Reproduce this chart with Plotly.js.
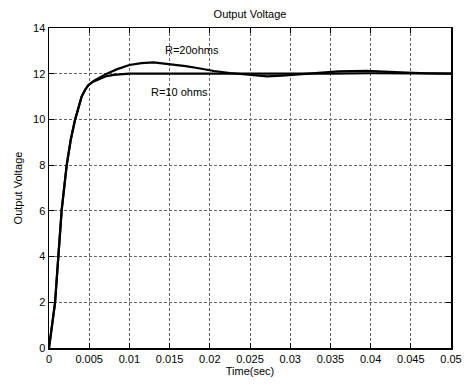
<!DOCTYPE html>
<html><head><meta charset="utf-8">
<script src="https://cdn.plot.ly/plotly-3.0.1.min.js"></script>
<style>html,body{margin:0;padding:0;background:#fff}#chart{width:467px;height:384px}</style>
</head><body><div id="chart"></div>
<script>
var t10 = [0,0.0004,0.00075,0.00116,0.00158,0.0022,0.0027,0.00323,0.0037,0.00406,0.0045,0.0049,0.0055,0.0061,0.007,0.008,0.01,0.015,0.02,0.025,0.03,0.035,0.04,0.045,0.05];
var v10 = [0,1.0,1.97,4.0,6.04,8.0,9.1,9.97,10.6,11.0,11.3,11.5,11.65,11.75,11.88,11.95,12.0,12.0,12.0,11.98,11.98,12.0,12.02,12.0,12.0];
var t20 = [0,0.0004,0.00075,0.00116,0.00158,0.0022,0.0027,0.00323,0.0037,0.00406,0.0045,0.0049,0.0055,0.0061,0.007,0.0076,0.0085,0.01,0.0115,0.013,0.015,0.017,0.0188,0.0205,0.0225,0.025,0.0271,0.029,0.031,0.0333,0.036,0.0395,0.042,0.0445,0.047,0.05];
var v20 = [0,1.0,1.97,4.0,6.04,8.0,9.1,9.97,10.6,11.0,11.3,11.5,11.67,11.8,11.97,12.06,12.2,12.38,12.46,12.5,12.42,12.33,12.23,12.12,12.03,11.94,11.88,11.92,11.98,12.04,12.1,12.12,12.1,12.05,12.02,12.0];
var xTicks = [0,0.005,0.01,0.015,0.02,0.025,0.03,0.035,0.04,0.045,0.05];
var xTickText = ['0','0.005','0.01','0.015','0.02','0.025','0.03','0.035','0.04','0.045','0.05'];
var yTicks = [0,2,4,6,8,10,12,14];
var labels = ['R=20ohms','R=10 ohms'];
var labelX = [0.0142,0.01244];
var labelY = [13.04,11.19];

var font = {family:'Liberation Sans, Arial, sans-serif', size:11, color:'#000'};
var traces = [
  {x:t20, y:v20, mode:'lines', line:{color:'#000', width:2.2}, hoverinfo:'skip'},
  {x:t10, y:v10, mode:'lines', line:{color:'#000', width:2.2}, hoverinfo:'skip'}
];
var annotations = labels.map(function(s,i){
  return {x:labelX[i], y:labelY[i], text:s, showarrow:false, xanchor:'left', yanchor:'middle', font:font};
});
var axisCommon = {
  showline:true, linecolor:'#000', linewidth:1.5, mirror:'ticks',
  ticks:'inside', ticklen:5, tickcolor:'#000', tickwidth:1,
  showgrid:true, gridcolor:'#666', gridwidth:1, griddash:'3px,2px',
  zeroline:false, tickfont:font
};
var layout = {
  width:467, height:384,
  margin:{l:49, r:16, t:28, b:36},
  paper_bgcolor:'#fff', plot_bgcolor:'#fff',
  showlegend:false,
  title:{text:'Output Voltage', font:font, x:0.5, xref:'paper', y:0.972, yanchor:'top'},
  xaxis:Object.assign({}, axisCommon, {range:[0,0.05], tickvals:xTicks, ticktext:xTickText,
    title:{text:'Time(sec)', font:font, standoff:0}}),
  yaxis:Object.assign({}, axisCommon, {range:[0,14], tickvals:yTicks,
    title:{text:'Output Voltage', font:font, standoff:8}}),
  annotations:annotations
};
Plotly.newPlot('chart', traces, layout, {displayModeBar:false, staticPlot:true});
</script></body></html>
